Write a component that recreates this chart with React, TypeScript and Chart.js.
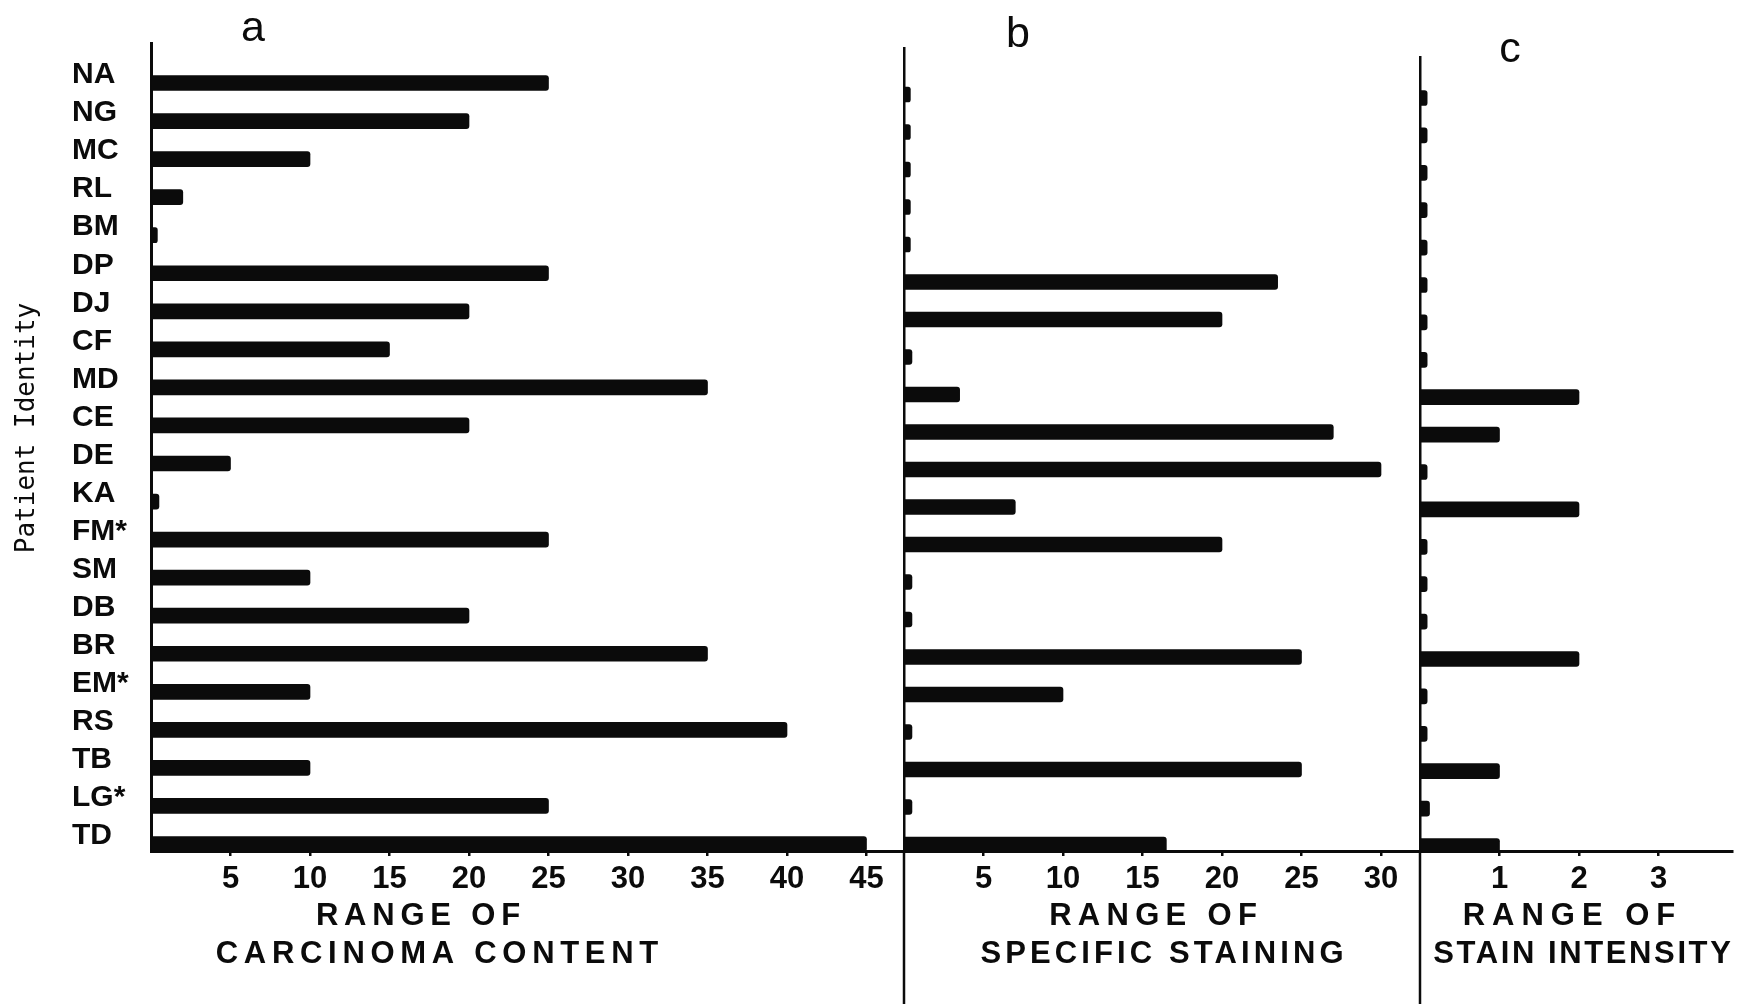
import { useEffect, useRef } from 'react';
import { Chart, registerables } from 'chart.js';

Chart.register(...registerables);

// ---------------- data ----------------
const patients = ['NA', 'NG', 'MC', 'RL', 'BM', 'DP', 'DJ', 'CF', 'MD', 'CE', 'DE', 'KA', 'FM*', 'SM', 'DB', 'BR', 'EM*', 'RS', 'TB', 'LG*', 'TD'];
const carcinomaContent = [25, 20, 10, 2, 0.4, 25, 20, 15, 35, 20, 5, 0.5, 25, 10, 20, 35, 10, 40, 10, 25, 45];
const specificStaining = [0.4, 0.4, 0.4, 0.4, 0.4, 23.5, 20, 0.5, 3.5, 27, 30, 7, 20, 0.5, 0.5, 25, 10, 0.5, 25, 0.5, 16.5];
const stainIntensity = [0.09, 0.09, 0.09, 0.09, 0.09, 0.09, 0.09, 0.09, 2, 1, 0.09, 2, 0.09, 0.09, 0.09, 2, 0.09, 0.09, 1, 0.12, 1];
const carcinomaTicks = [5, 10, 15, 20, 25, 30, 35, 40, 45];
const stainingTicks = [5, 10, 15, 20, 25, 30];
const intensityTicks = [1, 2, 3];
const panelLetters = ['a', 'b', 'c'];
const carcinomaTitle = ['RANGE OF', 'CARCINOMA CONTENT'];
const stainingTitle = ['RANGE OF', 'SPECIFIC STAINING'];
const intensityTitle = ['RANGE OF', 'STAIN INTENSITY'];
const yAxisTitle = 'Patient Identity';

// ---------------- layout / style ----------------
const W = 1738;
const H = 1007;
const AXIS_Y = 851; // pixel of the shared x axis line
const X_AXIS_H = 40;
const SANS = "'Liberation Sans', Arial, Helvetica, sans-serif";
const MONO = "'DejaVu Sans Mono', 'Liberation Mono', monospace";
const INK = '#0b0b0b';
const TITLE_FONT = `700 31px ${SANS}`;

type TextItem = { text: string; x: number; y: number; font: string; ls?: number; rotate?: boolean };

type Panel = {
  values: number[];
  ticks: number[];
  step: number;
  left: number;
  right: number;
  top: number;
  pxPerUnit: number;
  rowFirst: number;
  rowStep: number;
  showLabels: boolean;
  yBorderWidth: number;
  extendLine: boolean;
  texts: TextItem[];
};

const panels: Panel[] = [
  {
    values: carcinomaContent,
    ticks: carcinomaTicks,
    step: 5,
    left: 151,
    right: 904,
    top: 43,
    pxPerUnit: 15.9,
    rowFirst: 83,
    rowStep: 38.05,
    showLabels: true,
    yBorderWidth: 3,
    extendLine: false,
    texts: [
      { text: panelLetters[0], x: 253, y: 29, font: `400 43px ${SANS}` },
      { text: yAxisTitle, x: 27, y: 428, font: `400 26px ${MONO}`, rotate: true },
      { text: carcinomaTitle[0], x: 418, y: 916, font: TITLE_FONT, ls: 5.8 },
      { text: carcinomaTitle[1], x: 437, y: 954, font: TITLE_FONT, ls: 5.7 },
    ],
  },
  {
    values: specificStaining,
    ticks: stainingTicks,
    step: 5,
    left: 904,
    right: 1420,
    top: 48,
    pxPerUnit: 15.9,
    rowFirst: 94.5,
    rowStep: 37.5,
    showLabels: false,
    yBorderWidth: 2.5,
    extendLine: true,
    texts: [
      { text: panelLetters[1], x: 1018, y: 35, font: `400 43px ${SANS}` },
      { text: stainingTitle[0], x: 1153, y: 916, font: TITLE_FONT, ls: 6.3 },
      { text: stainingTitle[1], x: 1162, y: 954, font: TITLE_FONT, ls: 4.1 },
    ],
  },
  {
    values: stainIntensity,
    ticks: intensityTicks,
    step: 1,
    left: 1420,
    right: 1732,
    top: 57,
    pxPerUnit: 79.5,
    rowFirst: 98,
    rowStep: 37.4,
    showLabels: false,
    yBorderWidth: 2.5,
    extendLine: true,
    texts: [
      { text: panelLetters[2], x: 1510, y: 50, font: `400 43px ${SANS}` },
      { text: intensityTitle[0], x: 1569, y: 916, font: TITLE_FONT, ls: 7 },
      { text: intensityTitle[1], x: 1582, y: 954, font: TITLE_FONT, ls: 2.6 },
    ],
  },
];

function decorPlugin(p: Panel) {
  return {
    id: 'panelDecor',
    afterDraw(chart: any) {
      const ctx = chart.ctx as CanvasRenderingContext2D;
      const area = chart.chartArea;
      ctx.save();
      if (p.extendLine) {
        ctx.strokeStyle = INK;
        ctx.lineWidth = p.yBorderWidth;
        ctx.beginPath();
        ctx.moveTo(area.left, area.bottom);
        ctx.lineTo(area.left, 1004);
        ctx.stroke();
      }
      ctx.fillStyle = INK;
      ctx.textAlign = 'center';
      ctx.textBaseline = 'middle';
      for (const t of p.texts) {
        ctx.save();
        ctx.font = t.font;
        (ctx as any).letterSpacing = `${t.ls || 0}px`;
        if (t.rotate) {
          ctx.translate(t.x, t.y);
          ctx.rotate(-Math.PI / 2);
          ctx.fillText(t.text, 0, 0);
        } else {
          ctx.fillText(t.text, t.x + (t.ls || 0) / 2, t.y);
        }
        ctx.restore();
      }
      ctx.restore();
    },
  };
}

function buildConfig(p: Panel): any {
  const yMin = -(p.rowFirst - p.top) / p.rowStep;
  const yMax = yMin + (AXIS_Y - p.top) / p.rowStep;
  const xMax = (p.right - p.left) / p.pxPerUnit;
  return {
    type: 'bar',
    data: {
      datasets: [
        {
          data: p.values.map((v, i) => ({ x: v, y: i })),
          backgroundColor: INK,
          borderWidth: 0,
          barThickness: 15,
          borderRadius: 3,
          borderSkipped: 'start',
        },
      ],
    },
    options: {
      indexAxis: 'y',
      responsive: false,
      animation: false,
      devicePixelRatio: 1,
      layout: {
        padding: {
          left: p.showLabels ? 72 : p.left,
          right: W - p.right,
          top: p.top,
          bottom: H - AXIS_Y - X_AXIS_H,
        },
      },
      plugins: {
        legend: { display: false },
        tooltip: { enabled: false },
        title: { display: false },
      },
      scales: {
        x: {
          type: 'linear',
          position: 'bottom',
          offset: false,
          min: 0,
          max: xMax,
          afterFit: (s: any) => {
            s.height = X_AXIS_H;
          },
          border: { display: true, color: INK, width: 3 },
          grid: {
            offset: false,
            drawOnChartArea: false,
            drawTicks: true,
            tickLength: 5,
            lineWidth: 2.5,
            color: (c: any) => (c.tick && p.ticks.includes(c.tick.value) ? INK : 'rgba(0,0,0,0)'),
          },
          ticks: {
            stepSize: p.step,
            includeBounds: false,
            autoSkip: false,
            maxRotation: 0,
            maxTicksLimit: 100,
            padding: 5,
            color: INK,
            font: { family: SANS, size: 31, weight: 'bold' },
            callback: (v: any) => (p.ticks.includes(v) ? String(v) : ''),
          },
        },
        y: {
          type: 'linear',
          position: 'left',
          reverse: true,
          offset: false,
          min: yMin,
          max: yMax,
          afterFit: (s: any) => {
            s.width = p.showLabels ? p.left - 72 : 0;
          },
          border: { display: true, color: INK, width: p.yBorderWidth },
          grid: { display: false, drawTicks: false, offset: false },
          ticks: {
            display: p.showLabels,
            stepSize: 1,
            includeBounds: false,
            autoSkip: false,
            maxTicksLimit: 100,
            crossAlign: 'far',
            labelOffset: -8,
            padding: 0,
            color: INK,
            font: { family: SANS, size: 30, weight: 'bold' },
            callback: (v: any) => {
              const i = Math.round(v);
              return Math.abs(v - i) < 1e-6 && patients[i] !== undefined ? patients[i] : '';
            },
          },
        },
      },
    },
    plugins: [decorPlugin(p)],
  };
}

export default function App() {
  const r0 = useRef<HTMLCanvasElement>(null);
  const r1 = useRef<HTMLCanvasElement>(null);
  const r2 = useRef<HTMLCanvasElement>(null);

  useEffect(() => {
    document.body.style.margin = '0';
    document.body.style.overflow = 'hidden';
    const canvases = [r0.current, r1.current, r2.current];
    const charts = panels.map((p, i) => new Chart(canvases[i] as HTMLCanvasElement, buildConfig(p)));
    return () => {
      charts.forEach((c) => c.destroy());
    };
  }, []);

  const refs = [r0, r1, r2];
  return (
    <div style={{ position: 'absolute', left: 0, top: 0, width: W, height: H, background: '#fff', overflow: 'hidden' }}>
      {refs.map((r, i) => (
        <canvas key={i} ref={r} width={W} height={H} style={{ position: 'absolute', left: 0, top: 0 }} />
      ))}
    </div>
  );
}
